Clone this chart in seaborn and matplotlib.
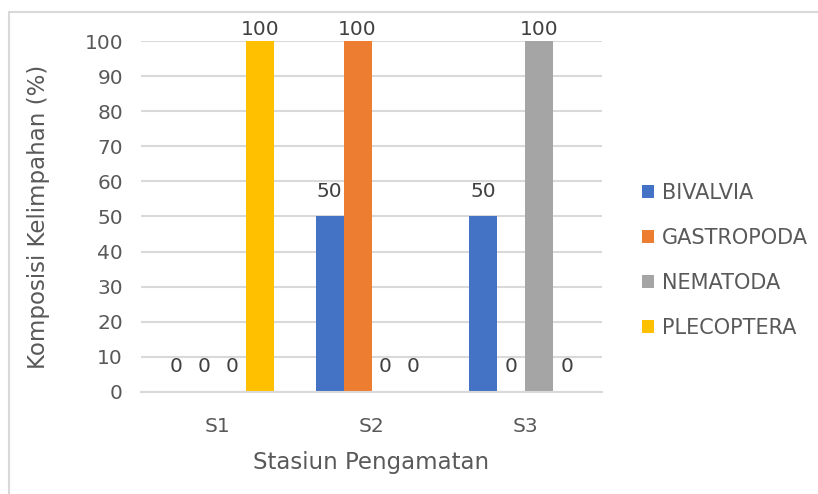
import matplotlib
matplotlib.use("Agg")
import matplotlib.pyplot as plt
from matplotlib.patches import Patch
from matplotlib.lines import Line2D
import seaborn as sns
import pandas as pd

stations = ["S1", "S2", "S3"]
taxa = ["BIVALVIA", "GASTROPODA", "NEMATODA", "PLECOPTERA"]
bivalvia = [0, 50, 50]
gastropoda = [0, 100, 0]
nematoda = [0, 0, 100]
plecoptera = [100, 0, 0]
colors = ["#4472C4", "#ED7D31", "#A5A5A5", "#FFC000"]

rows = []
for name, vals in zip(taxa, [bivalvia, gastropoda, nematoda, plecoptera]):
    for st, v in zip(stations, vals):
        rows.append({"Stasiun": st, "Takson": name, "Nilai": v})
df = pd.DataFrame(rows)

sns.set_theme(style="white")
plt.rcParams["font.family"] = ["DejaVu Sans"]
text_color = "#595959"
grid_color = "#D9D9D9"

fig = plt.figure(figsize=(8.18, 4.94), dpi=100)
ax = fig.add_axes([0.1724, 0.2065, 0.5636, 0.7105])

sns.barplot(data=df, x="Stasiun", y="Nilai", hue="Takson", order=stations,
            hue_order=taxa, palette=colors, width=0.728, saturation=1,
            ax=ax, legend=False, linewidth=0, errorbar=None)

# value labels above each bar; labels at the top of the scale sit closer
ymax = 100
for cont in ax.containers:
    for bar in cont:
        h = bar.get_height()
        off = 8 if h >= ymax else 18
        ax.annotate(f"{h:g}", (bar.get_x() + bar.get_width() / 2, h),
                    xytext=(0, off), textcoords="offset points",
                    ha="center", va="center", fontsize=14.5,
                    color="#404040", annotation_clip=False)

ax.set_ylim(0, ymax)
ax.set_xlim(-0.5, 2.5)
ax.set_yticks(range(0, 101, 10))
ax.yaxis.grid(True, color=grid_color, linewidth=1.5)
ax.set_axisbelow(True)
for side in ["top", "right", "left"]:
    ax.spines[side].set_visible(False)
ax.spines["bottom"].set_color(grid_color)
ax.spines["bottom"].set_linewidth(1.5)
ax.tick_params(axis="both", length=0, labelsize=14.5, colors=text_color)
ax.tick_params(axis="y", pad=13)
ax.tick_params(axis="x", pad=18)
ax.set_xlabel("Stasiun Pengamatan", fontsize=16.5, color=text_color,
              labelpad=11)
ax.set_ylabel("Komposisi Kelimpahan (%)", fontsize=16.5, color=text_color,
              labelpad=25)

handles = [Patch(facecolor=c, edgecolor="none") for c in colors]
fig.legend(handles, taxa, loc="center left", bbox_to_anchor=(0.7616, 0.473),
           frameon=False, fontsize=15, labelcolor=text_color,
           handlelength=0.6, handleheight=0.6, handletextpad=0.35,
           labelspacing=1.2)

# chart area border
fig.add_artist(Line2D([0.0104, 1.0], [0.9767, 0.9767], color="#D9D9D9",
                      linewidth=1.5, transform=fig.transFigure))
fig.add_artist(Line2D([0.0104, 0.0104], [0.0, 0.9767], color="#D9D9D9",
                      linewidth=1.5, transform=fig.transFigure))

fig.savefig("out.png", dpi=100, facecolor="white")
